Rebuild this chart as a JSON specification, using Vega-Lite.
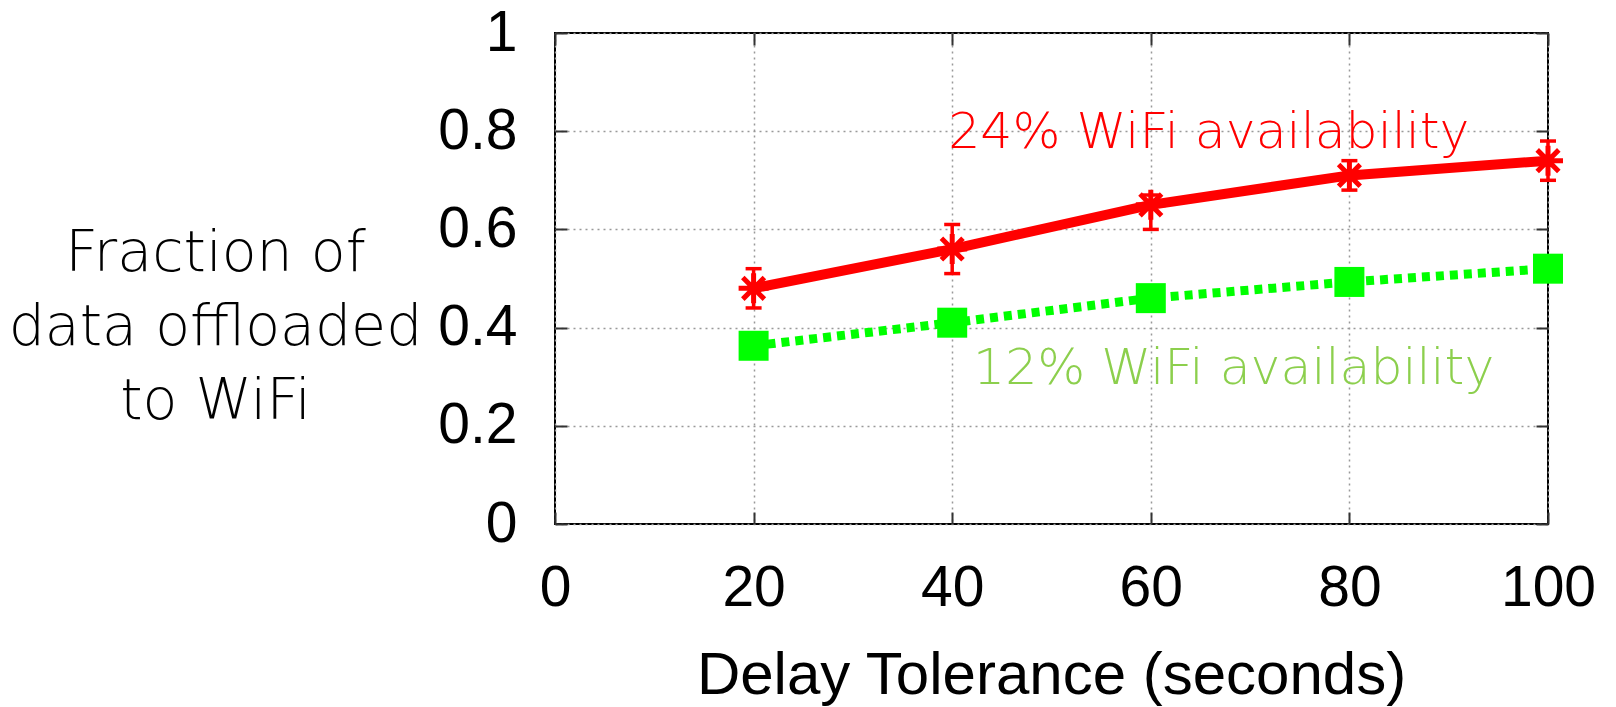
{
  "$schema": "https://vega.github.io/schema/vega-lite/v6.json",
  "width": 993,
  "height": 491,
  "autosize": {"type": "none"},
  "padding": {"left": 555, "top": 33, "right": 68, "bottom": 183},
  "background": "white",
  "config": {"view": {"stroke": "black", "strokeWidth": 2}},
  "datasets": {
    "red": [
      {"x": 20, "y": 0.48, "lo": 0.44, "hi": 0.52},
      {"x": 40, "y": 0.56, "lo": 0.51, "hi": 0.61},
      {"x": 60, "y": 0.65, "lo": 0.60, "hi": 0.67},
      {"x": 80, "y": 0.71, "lo": 0.68, "hi": 0.74},
      {"x": 100, "y": 0.74, "lo": 0.70, "hi": 0.78}
    ],
    "green": [
      {"x": 20, "y": 0.363},
      {"x": 40, "y": 0.41},
      {"x": 60, "y": 0.46},
      {"x": 80, "y": 0.493},
      {"x": 100, "y": 0.52}
    ],
    "labels": [
      {"x": 39.6, "y": 0.766, "label": "24% WiFi availability", "series": "red"},
      {"x": 42.1, "y": 0.285, "label": "12% WiFi availability", "series": "green"}
    ]
  },
  "resolve": {"axis": {"x": "independent", "y": "independent"}},
  "layer": [
    {
      "data": {"name": "red"},
      "mark": {"type": "line", "color": "#ff0000", "strokeWidth": 10},
      "encoding": {
        "x": {
          "field": "x", "type": "quantitative",
          "scale": {"domain": [0, 100], "nice": false, "zero": false},
          "axis": {
            "values": [0, 20, 40, 60, 80, 100],
            "grid": true, "gridColor": "#999999", "gridDash": [2, 4], "gridWidth": 1.5,
            "domain": false,
            "tickSize": -12, "tickColor": "#333333", "tickWidth": 2,
            "labelFont": "Liberation Sans", "labelFontSize": 57, "labelColor": "black",
            "labelBaseline": "alphabetic", "labelPadding": 93,
            "labelFlush": false, "labelOverlap": false, "labelBound": false,
            "title": "Delay Tolerance (seconds)",
            "titleFont": "Liberation Sans", "titleFontSize": 60, "titleFontWeight": "normal", "titleColor": "black",
            "titleBaseline": "alphabetic", "titleAnchor": "middle", "titleX": 496, "titleY": 169
          }
        },
        "y": {
          "field": "y", "type": "quantitative",
          "scale": {"domain": [0, 1], "nice": false},
          "axis": {
            "values": [0, 0.2, 0.4, 0.6, 0.8, 1],
            "format": "~g",
            "grid": true, "gridColor": "#999999", "gridDash": [2, 4], "gridWidth": 1.5,
            "domain": false,
            "tickSize": -12, "tickColor": "#333333", "tickWidth": 2,
            "labelFont": "Liberation Sans", "labelFontSize": 57, "labelColor": "black",
            "labelPadding": 50, "labelBaseline": "middle",
            "labelFlush": false, "labelOverlap": false, "labelBound": false,
            "title": ["Fraction of", "data offloaded", "to WiFi"],
            "titleAngle": 0, "titleAlign": "center", "titleBaseline": "alphabetic",
            "titleX": -340, "titleY": 237, "titleLineHeight": 74,
            "titleFont": "DejaVu Sans", "titleFontSize": 57, "titleFontWeight": 200, "titleColor": "black"
          }
        }
      }
    },
    {
      "data": {"name": "green"},
      "mark": {"type": "line", "color": "#00ff00", "strokeWidth": 9, "strokeDash": [8, 6], "strokeCap": "butt"},
      "encoding": {
        "x": {
          "field": "x", "type": "quantitative",
          "axis": {
            "orient": "top", "values": [0, 20, 40, 60, 80, 100],
            "grid": false, "domain": false, "labels": false, "title": null,
            "tickSize": -12, "tickColor": "#333333", "tickWidth": 2
          }
        },
        "y": {
          "field": "y", "type": "quantitative",
          "axis": {
            "orient": "right", "values": [0, 0.2, 0.4, 0.6, 0.8, 1],
            "grid": false, "domain": false, "labels": false, "title": null,
            "tickSize": -12, "tickColor": "#333333", "tickWidth": 2
          }
        }
      }
    },
    {
      "data": {"name": "red"},
      "mark": {"type": "rule", "color": "#ff0000", "strokeWidth": 3.5},
      "encoding": {
        "x": {"field": "x", "type": "quantitative", "axis": null},
        "y": {"field": "lo", "type": "quantitative", "axis": null},
        "y2": {"field": "hi"}
      }
    },
    {
      "data": {"name": "red"},
      "mark": {"type": "point", "shape": "M-1,0L1,0", "filled": false, "stroke": "#ff0000", "strokeWidth": 3.5, "size": 256, "opacity": 1},
      "encoding": {
        "x": {"field": "x", "type": "quantitative", "axis": null},
        "y": {"field": "lo", "type": "quantitative", "axis": null}
      }
    },
    {
      "data": {"name": "red"},
      "mark": {"type": "point", "shape": "M-1,0L1,0", "filled": false, "stroke": "#ff0000", "strokeWidth": 3.5, "size": 256, "opacity": 1},
      "encoding": {
        "x": {"field": "x", "type": "quantitative", "axis": null},
        "y": {"field": "hi", "type": "quantitative", "axis": null}
      }
    },
    {
      "data": {"name": "red"},
      "mark": {"type": "point", "shape": "M-1,0L1,0M0,-1L0,1M-0.72,-0.72L0.72,0.72M-0.72,0.72L0.72,-0.72", "filled": false, "stroke": "#ff0000", "strokeWidth": 5, "size": 900, "opacity": 1},
      "encoding": {
        "x": {"field": "x", "type": "quantitative", "axis": null},
        "y": {"field": "y", "type": "quantitative", "axis": null}
      }
    },
    {
      "data": {"name": "green"},
      "mark": {"type": "point", "shape": "square", "filled": true, "color": "#00ff00", "size": 900, "opacity": 1},
      "encoding": {
        "x": {"field": "x", "type": "quantitative", "axis": null},
        "y": {"field": "y", "type": "quantitative", "axis": null}
      }
    },
    {
      "data": {"name": "labels"},
      "mark": {"type": "text", "align": "left", "baseline": "alphabetic", "font": "DejaVu Sans", "fontWeight": 200, "fontSize": 50.5},
      "encoding": {
        "x": {"field": "x", "type": "quantitative", "axis": null},
        "y": {"field": "y", "type": "quantitative", "axis": null},
        "text": {"field": "label"},
        "color": {"field": "series", "type": "nominal", "scale": {"domain": ["red", "green"], "range": ["#ff0000", "#8ccf4d"]}, "legend": null}
      }
    }
  ]
}
